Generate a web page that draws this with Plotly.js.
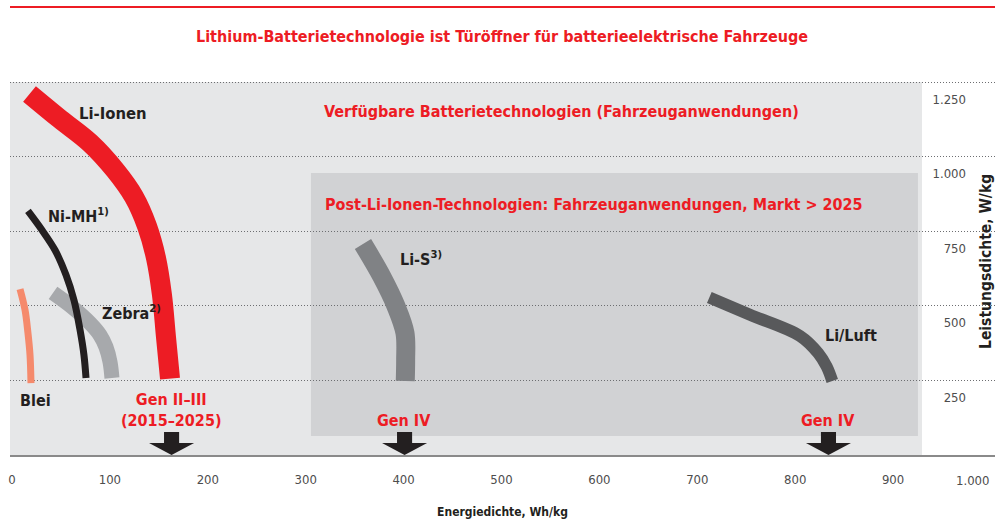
<!DOCTYPE html>
<html>
<head>
<meta charset="utf-8">
<script src="https://cdn.plot.ly/plotly-3.0.1.min.js"></script>
<style>
  html, body { margin: 0; padding: 0; background: #ffffff; }
  #chart { width: 995px; height: 520px; }
</style>
</head>
<body>
<div id="chart"></div>
<script>
// ---------- DATA ----------
const xTickVals = [0, 100, 200, 300, 400, 500, 600, 700, 800, 900];
const xTickText = ['0', '100', '200', '300', '400', '500', '600', '700', '800', '900'];
const xEndTickVals = [1000];
const xEndTickText = ['1.000'];
const yTickVals = [250, 500, 750, 1000, 1250];
const yTickText = ['250', '500', '750', '1.000', '1.250'];

// Energiedichte (Wh/kg) / Leistungsdichte (W/kg)
const bleiX = [8.2, 13.3, 16.3, 18.4, 19.4];
const bleiY = [556, 486, 409, 335, 241];

const nimhX = [16.3, 30.6, 43.9, 55.2, 63.3, 69.5, 73.5, 75.6];
const nimhY = [818, 754, 687, 603, 519, 419, 335, 258];

const zebraX = [41.9, 61.3, 79.7, 89.9, 96.0, 100.1, 102.1];
const zebraY = [543, 496, 442, 402, 362, 312, 258];

const liionX = [17.9, 49.0, 79.7, 105.2, 124.6, 137.9, 147.1, 153.2, 157.3, 161.4];
const liionY = [1210, 1126, 1046, 955, 865, 767, 660, 536, 395, 256];

const lisX = [358.5, 377.9, 392.2, 401.4, 402.1, 401.7];
const lisY = [707, 597, 499, 409, 318, 248];

const liluftX = [712.3, 753.8, 804.9, 823.6, 832.2, 837.9];
const liluftY = [528, 470, 399, 341, 296, 248];

// generation markers (Energiedichte)
const genArrowX = [163, 401, 834];

// technology regions
const availRegionX = [-2.04, 929.5];
const availRegionY = [0, 1250];
const postRegionX = [305.4, 925.4];
const postRegionY = [63.7, 945];

// ---------- STYLE ----------
const FONT = "'Liberation Sans Narrow', 'DejaVu Sans Condensed', 'Arial Narrow', sans-serif";
const RED = '#ed1c24';
const DARK = '#231f20';

function curve(x, y, color, width) {
  return {
    type: 'scatter', mode: 'lines', x: x, y: y,
    line: { color: color, width: width, shape: 'spline', smoothing: 1 },
    hoverinfo: 'skip', cliponaxis: false
  };
}

const traces = [
  curve(bleiX, bleiY, '#f58a6c', 7),
  curve(zebraX, zebraY, '#a7a9ac', 15),
  curve(nimhX, nimhY, DARK, 7),
  curve(liionX, liionY, RED, 20),
  curve(lisX, lisY, '#808285', 19),
  curve(liluftX, liluftY, '#58595b', 12)
];

// arrow glyph sizes (data units)
const stemHalf = 7.7, headHalf = 23, headH = 40, stemTop = 77;
genArrowX.forEach(function (ax) {
  traces.push({
    type: 'scatter', mode: 'lines',
    x: [ax - stemHalf, ax + stemHalf, ax + stemHalf, ax + headHalf, ax, ax - headHalf, ax - stemHalf, ax - stemHalf],
    y: [stemTop, stemTop, headH, headH, 0, headH, headH, stemTop],
    fill: 'toself', fillcolor: DARK, line: { width: 0, color: DARK },
    hoverinfo: 'skip', cliponaxis: false
  });
});

function label(text, x, y, opts) {
  return Object.assign({
    text: text, x: x, y: y, xref: 'x', yref: 'y', showarrow: false,
    xanchor: 'left', yanchor: 'middle',
    font: { family: FONT, size: 16, color: DARK, weight: 'bold' }
  }, opts || {});
}
const redFont = { family: FONT, size: 16, color: RED, weight: 'bold' };
const tickFont = { family: FONT, size: 13, color: '#4d4d4d' };

const annotations = [
  { text: 'Lithium-Batterietechnologie ist Türöffner für batterieelektrische Fahrzeuge',
    xref: 'paper', yref: 'paper', x: (502 - 10) / 985, y: (455 - 36) / 375,
    xanchor: 'center', yanchor: 'middle', showarrow: false, font: redFont },
  label('Li-Ionen', 103, 1146, { xanchor: 'center', font: { family: FONT, size: 16.5, color: DARK, weight: 'bold' } }),
  label('Verfügbare Batterietechnologien (Fahrzeuganwendungen)', 316.6, 1150, { font: redFont }),
  label('Post-Li-Ionen-Technologien: Fahrzeuganwendungen, Markt > 2025', 317.7, 841, { font: redFont }),
  label('Ni-MH<sup>1)</sup>', 34.7, 804),
  label('Zebra<sup>2)</sup>', 89.9, 476),
  label('Blei', 6.1, 184),
  label('Li-S<sup>3)</sup>', 394.3, 660),
  label('Li/Luft', 828.4, 399),
  label('Gen II–III<br>(2015–2025)', 162, 151, { xanchor: 'center', font: redFont }),
  label('Gen IV', 400.4, 117, { xanchor: 'center', font: redFont }),
  label('Gen IV', 834, 117, { xanchor: 'center', font: redFont }),
  { text: 'Leistungsdichte, W/kg', xref: 'paper', yref: 'paper',
    x: (986 - 10) / 985, y: (455 - 262) / 375, textangle: -90,
    xanchor: 'center', yanchor: 'middle', showarrow: false,
    font: { family: FONT, size: 15.5, color: DARK, weight: 'bold' } }
];
// end-of-axis tick label, flush right with its tick
xEndTickVals.forEach(function (v, i) {
  annotations.push({ text: xEndTickText[i], x: v, xref: 'x', y: (455 - 480) / 375, yref: 'paper',
    xanchor: 'right', yanchor: 'middle', showarrow: false, font: tickFont });
});

const shapes = [
  { type: 'rect', layer: 'below', xref: 'x', yref: 'y',
    x0: availRegionX[0], x1: availRegionX[1], y0: availRegionY[0], y1: availRegionY[1],
    fillcolor: '#e6e7e8', line: { width: 0 } },
  { type: 'rect', layer: 'below', xref: 'x', yref: 'y',
    x0: postRegionX[0], x1: postRegionX[1], y0: postRegionY[0], y1: postRegionY[1],
    fillcolor: '#d1d2d4', line: { width: 0 } },
  { type: 'line', xref: 'paper', yref: 'paper', x0: 0, x1: 1,
    y0: (455 - 7) / 375, y1: (455 - 7) / 375, line: { color: RED, width: 2 } }
];

const layout = {
  width: 995, height: 520,
  margin: { l: 10, r: 0, t: 80, b: 65, pad: 0 },
  paper_bgcolor: '#ffffff', plot_bgcolor: '#ffffff',
  showlegend: false, hovermode: false,
  xaxis: {
    range: [-2.04, 1004.1], tickvals: xTickVals, ticktext: xTickText,
    showgrid: false, zeroline: false, ticks: '',
    showline: true, linecolor: '#8a8a8a', linewidth: 1.5,
    tickfont: tickFont, ticklabelstandoff: 12,
    title: { text: 'Energiedichte, Wh/kg', standoff: 21,
      font: { family: FONT, size: 12, color: DARK, weight: 'bold' } },
    fixedrange: true
  },
  yaxis: {
    range: [0, 1256.7], side: 'right',
    tickvals: yTickVals, ticktext: yTickText,
    ticklabelposition: 'inside', ticklabelshift: 17, ticklabelstandoff: 26,
    tickfont: tickFont, ticks: '',
    showgrid: true, gridcolor: '#6d6e71', gridwidth: 1, griddash: '1px,2px',
    zeroline: false, showline: false, fixedrange: true
  },
  shapes: shapes,
  annotations: annotations
};

Plotly.newPlot('chart', traces, layout, { displayModeBar: false, staticPlot: true });
</script>
</body>
</html>
